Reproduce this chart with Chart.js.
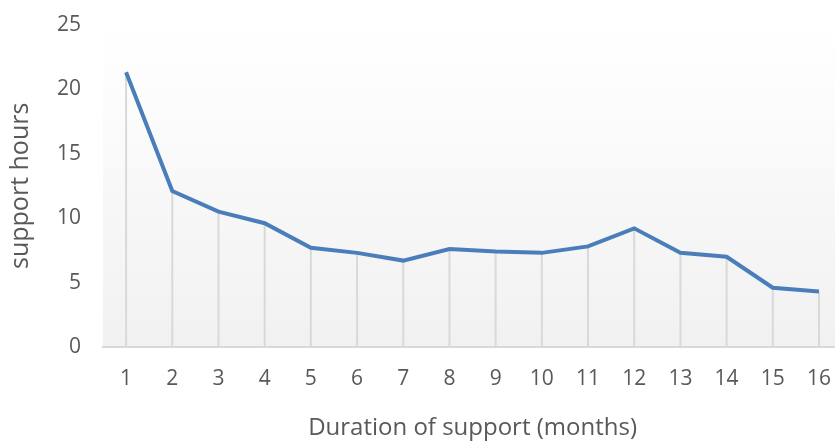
<!DOCTYPE html>
<html>
<head>
<meta charset="utf-8">
<script src="https://cdn.jsdelivr.net/npm/chart.js@4"></script>
<style>
  html, body { margin: 0; padding: 0; background: #ffffff; overflow: hidden; }
  #wrap { position: absolute; left: 0; top: -10px; width: 850px; height: 453px; }
</style>
</head>
<body>
<div id="wrap"><canvas id="supportChart"></canvas></div>
<script>
// months of support and average support hours per month
const months = ['1', '2', '3', '4', '5', '6', '7', '8', '9', '10', '11', '12', '13', '14', '15', '16'];
const supportHours = [21.3, 12.1, 10.5, 9.6, 7.7, 7.3, 6.7, 7.6, 7.4, 7.3, 7.8, 9.2, 7.3, 7.0, 4.6, 4.3];
const yTicks = [0, 5, 10, 15, 20, 25];

const textColor = '#595959';
const fontFamily = '"Open Sans", "Noto Sans", sans-serif';

// soft vertical gradient behind the plot
const plotBackground = {
    id: 'plotBackground',
    beforeDraw(chart) {
        const { ctx, chartArea } = chart;
        const grad = ctx.createLinearGradient(0, chartArea.top, 0, chartArea.bottom);
        grad.addColorStop(0, '#ffffff');
        grad.addColorStop(0.3, '#fbfbfb');
        grad.addColorStop(1, '#f1f1f1');
        ctx.save();
        ctx.fillStyle = grad;
        ctx.fillRect(chartArea.left, chartArea.top, chartArea.right - chartArea.left, chartArea.bottom - chartArea.top);
        ctx.restore();
    }
};

// drop lines from each point down to the category axis
const dropLines = {
    id: 'dropLines',
    beforeDatasetsDraw(chart) {
        const { ctx } = chart;
        const yScale = chart.scales.y;
        const meta = chart.getDatasetMeta(0);
        ctx.save();
        ctx.strokeStyle = '#d9d9d9';
        ctx.lineWidth = 2;
        meta.data.forEach(pt => {
            ctx.beginPath();
            ctx.moveTo(pt.x, pt.y);
            ctx.lineTo(pt.x, yScale.getPixelForValue(0));
            ctx.stroke();
        });
        ctx.restore();
    }
};

new Chart(document.getElementById('supportChart'), {
    type: 'line',
    data: {
        labels: months,
        datasets: [{
            data: supportHours,
            borderColor: '#4a7ebb',
            borderWidth: 4,
            pointRadius: 0,
            tension: 0,
            fill: false
        }]
    },
    options: {
        responsive: true,
        maintainAspectRatio: false,
        animation: false,
        layout: { padding: 0 },
        plugins: {
            legend: { display: false },
            tooltip: { enabled: false }
        },
        scales: {
            x: {
                offset: true,
                grid: { display: false, drawTicks: false },
                border: { display: true, color: '#d9d9d9', width: 2 },
                ticks: {
                    color: textColor,
                    padding: 19,
                    maxRotation: 0,
                    autoSkip: false,
                    font: { family: fontFamily, size: 21 }
                },
                title: {
                    display: true,
                    text: 'Duration of support (months)',
                    color: textColor,
                    padding: { top: 18, bottom: 0 },
                    font: { family: fontFamily, size: 24 }
                },
                afterFit(scale) { scale.height = 96; }
            },
            y: {
                min: 0,
                max: 25,
                afterBuildTicks(scale) { scale.ticks = yTicks.map(v => ({ value: v })); },
                grid: { display: false, drawTicks: false },
                border: { display: false },
                ticks: {
                    color: textColor,
                    padding: 22,
                    font: { family: fontFamily, size: 21 }
                },
                title: {
                    display: true,
                    text: 'support hours',
                    color: textColor,
                    padding: { top: 6, bottom: 0 },
                    font: { family: fontFamily, size: 25 }
                },
                afterFit(scale) { scale.width = 103; }
            }
        }
    },
    plugins: [plotBackground, dropLines]
});
</script>
</body>
</html>
